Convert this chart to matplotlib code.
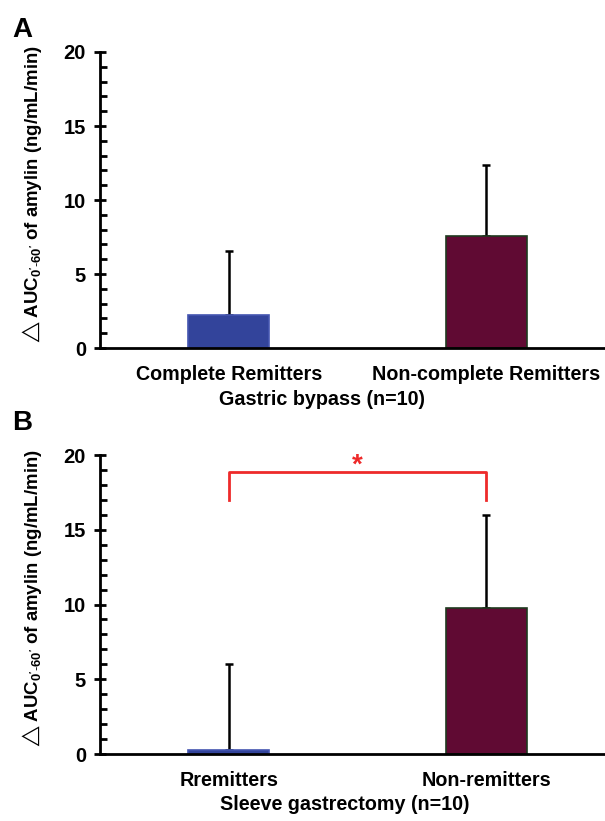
import numpy as np
import matplotlib
matplotlib.use("Agg")
import matplotlib.pyplot as plt
from matplotlib.ticker import MultipleLocator

plt.rcParams['font.family'] = ['Liberation Sans', 'DejaVu Sans']
plt.rcParams['mathtext.fontset'] = 'custom'
plt.rcParams['mathtext.bf'] = 'Liberation Sans:bold'
plt.rcParams['mathtext.rm'] = 'Liberation Sans'
plt.rcParams['mathtext.fallback'] = 'stixsans'

# panel A: gastric bypass
labels_a = ['Complete Remitters', 'Non-complete Remitters']
means_a = [2.2, 7.6]
sd_a = [4.35, 4.75]

# panel B: sleeve gastrectomy
labels_b = ['Rremitters', 'Non-remitters']
means_b = [0.25, 9.75]
sd_b = [5.8, 6.25]

bar_colors = ['#33449b', '#600a33']
edge_colors = ['#4455b0', '#1f3a1f']
ylabel = "$\\triangle$AUC$_{\\mathbf{0'\\text{-}60'}}$ of amylin (ng/mL/min)"

fig = plt.figure(figsize=(6.05, 8.21), dpi=100)
ax_a = fig.add_axes([100 / 605, 473 / 821, 505 / 605, 296 / 821])
ax_b = fig.add_axes([100 / 605, 67 / 821, 505 / 605, 299 / 821])


def draw_panel(ax, labels, means, sd, xlabel, xlabel_x, xlabel_y):
    x = np.arange(len(labels))
    ax.bar(x, means, width=0.315, color=bar_colors, edgecolor=edge_colors,
           linewidth=1.2, zorder=2)
    ax.errorbar(x, means, yerr=[np.zeros(len(sd)), sd], fmt='none',
                ecolor='black', elinewidth=1.8, capsize=3, capthick=1.8, zorder=1)
    ax.set_xlim(-0.5, 1.46)
    ax.set_ylim(0, 20)
    ax.set_xticks(x)
    ax.set_xticklabels(labels, fontsize=14.2, fontweight='bold')
    ax.set_xlabel(xlabel, fontsize=14.2, fontweight='bold')
    ax.xaxis.set_label_coords(xlabel_x, xlabel_y)
    ax.set_ylabel(ylabel, fontsize=13.4, fontweight='bold')
    ax.yaxis.set_label_coords(-0.111, 0.515)
    ax.yaxis.set_major_locator(MultipleLocator(5))
    ax.yaxis.set_minor_locator(MultipleLocator(1))
    ax.tick_params(axis='y', which='major', direction='inout', length=8,
                   width=2, labelsize=14.5, pad=6)
    ax.tick_params(axis='y', which='minor', direction='in', length=5, width=2)
    ax.tick_params(axis='x', length=0, pad=12)
    for lbl in ax.get_yticklabels():
        lbl.set_fontweight('bold')
    ax.spines['top'].set_visible(False)
    ax.spines['right'].set_visible(False)
    ax.spines['left'].set_linewidth(2)
    ax.spines['bottom'].set_linewidth(2)
    ax.spines['bottom'].set_clip_on(False)


draw_panel(ax_a, labels_a, means_a, sd_a, 'Gastric bypass (n=10)', 0.44, -0.142)
draw_panel(ax_b, labels_b, means_b, sd_b, 'Sleeve gastrectomy (n=10)', 0.485, -0.137)

# significance bracket
ax_b.plot([0, 0, 1, 1], [17.0, 18.85, 18.85, 17.0], color='#ee2a2a', linewidth=2,
          clip_on=False)
ax_b.text(0.5, 19.3, '*', color='#ee2a2a', fontsize=20, fontweight='bold',
          ha='center', va='center')

fig.text(12 / 605, 1 - 37 / 821, 'A', fontsize=20, fontweight='bold')
fig.text(12 / 605, 1 - 430 / 821, 'B', fontsize=20, fontweight='bold')

fig.savefig('out.png', dpi=100, facecolor='white')
